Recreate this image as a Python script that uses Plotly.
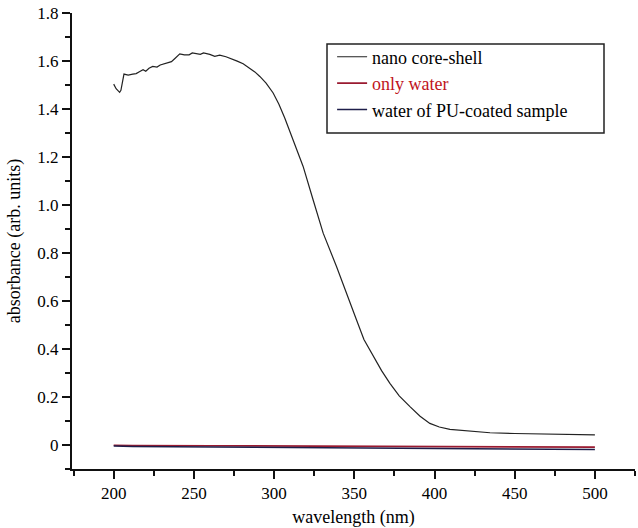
import plotly.graph_objects as go

# nano core-shell spectrum
nano_wl = [200, 201.5, 203.7, 204.5, 206.4, 209, 211.9, 214, 216, 218.3, 220, 222, 224.3, 227, 229,
           232.9, 236, 238, 241.2, 244, 247, 249, 251.6, 254, 256, 259.9, 263, 266.1, 270, 274.4,
           277, 280.7, 284, 288, 291.1, 295, 299.4, 303, 306.7, 311.9, 318.1, 324.3, 330.6, 338.9,
           346.2, 351.4, 356, 361.8, 367, 372.2, 378, 384.7, 391, 397.1, 403, 409.6, 420, 434.6,
           450, 465, 480, 500]
nano_abs = [1.504, 1.485, 1.470, 1.478, 1.546, 1.542, 1.546, 1.548, 1.556, 1.564, 1.558, 1.570, 1.578,
            1.575, 1.584, 1.592, 1.598, 1.610, 1.630, 1.626, 1.626, 1.634, 1.630, 1.628, 1.634, 1.628,
            1.620, 1.625, 1.618, 1.608, 1.600, 1.589, 1.575, 1.555, 1.536, 1.508, 1.467, 1.420, 1.362,
            1.272, 1.161, 1.022, 0.883, 0.744, 0.618, 0.521, 0.440, 0.368, 0.310, 0.257, 0.205, 0.160,
            0.120, 0.090, 0.075, 0.065, 0.058, 0.051, 0.048, 0.046, 0.044, 0.042]

# only water
water_wl = [200, 212, 262, 338, 388, 412, 463, 487, 500]
water_abs = [-0.001, -0.002, -0.003, -0.005, -0.006, -0.007, -0.008, -0.009, -0.009]

# water of PU-coated sample
pu_wl = [200, 212, 262, 338, 388, 412, 463, 487, 500]
pu_abs = [-0.004, -0.006, -0.008, -0.011, -0.013, -0.015, -0.016, -0.018, -0.019]

x_ticks = [200, 250, 300, 350, 400, 450, 500]
y_ticks = [0, 0.2, 0.4, 0.6, 0.8, 1.0, 1.2, 1.4, 1.6, 1.8]
y_ticktext = ["0", "0.2", "0.4", "0.6", "0.8", "1.0", "1.2", "1.4", "1.6", "1.8"]

FONT = "Liberation Serif, Times New Roman, serif"

fig = go.Figure()
fig.add_trace(go.Scatter(x=nano_wl, y=nano_abs, mode="lines", name="nano core-shell",
                         line=dict(color="#222222", width=1.2)))
fig.add_trace(go.Scatter(x=water_wl, y=water_abs, mode="lines",
                         name="<span style='color:#c0141c'>only water</span>",
                         line=dict(color="#9a1a30", width=1.6)))
fig.add_trace(go.Scatter(x=pu_wl, y=pu_abs, mode="lines", name="water of PU-coated sample",
                         line=dict(color="#1e1e4a", width=1.6)))

fig.update_layout(
    width=638, height=528,
    paper_bgcolor="white", plot_bgcolor="white",
    margin=dict(l=72, r=3, t=13, b=59),
    font=dict(family=FONT, size=17, color="black"),
    showlegend=True,
    legend=dict(x=0.462, y=0.944, xanchor="left", yanchor="top",
                bgcolor="rgba(0,0,0,0)", borderwidth=0,
                font=dict(family=FONT, size=18, color="black"),
                tracegroupgap=0),
    shapes=[dict(type="rect", xref="paper", yref="paper",
                 x0=(327 - 72) / 563, x1=(604 - 72) / 563,
                 y0=(469 - 133) / 456, y1=(469 - 44) / 456,
                 line=dict(color="#222222", width=1.5), fillcolor="rgba(0,0,0,0)")],
)

fig.update_xaxes(
    range=[174, 525], tickvals=x_ticks, showgrid=False, zeroline=False,
    showline=True, linecolor="#111111", linewidth=2,
    ticks="outside", ticklen=8, tickwidth=2, tickcolor="#111111",
    tickfont=dict(family=FONT, size=17),
    minor=dict(dtick=25, tick0=200, ticks="outside", ticklen=5, tickwidth=1.5, tickcolor="#111111", showgrid=False),
    title=dict(text="wavelength (nm)", font=dict(family=FONT, size=18), standoff=12),
    automargin=False,
)
fig.update_yaxes(
    range=[-0.1, 1.8005], tickvals=y_ticks, ticktext=y_ticktext, showgrid=False, zeroline=False,
    showline=True, linecolor="#111111", linewidth=2,
    ticks="outside", ticklen=8, tickwidth=2, tickcolor="#111111",
    tickfont=dict(family=FONT, size=17), ticklabeloverflow="allow",
    minor=dict(dtick=0.1, tick0=0, ticks="outside", ticklen=5, tickwidth=1.5, tickcolor="#111111", showgrid=False),
    title=dict(text="absorbance (arb. units)", font=dict(family=FONT, size=18), standoff=12),
    automargin=False,
)

fig.write_html("out.html", config={"displayModeBar": False},
               post_script="document.body.style.margin='0';document.body.style.overflow='hidden';")
